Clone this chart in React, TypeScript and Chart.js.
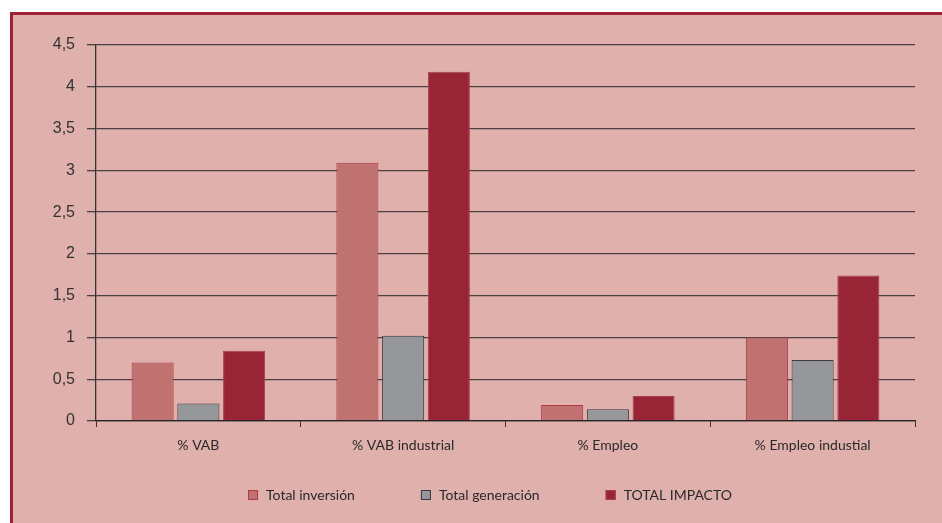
import React, { useEffect, useRef } from "react";
import { Chart, registerables } from "chart.js";

Chart.register(...registerables);

const categories = ["% VAB", "% VAB industrial", "% Empleo", "% Empleo industial"];
const seriesNames = ["Total inversión", "Total generación", "TOTAL IMPACTO"];
const totalInversion = [0.7, 3.09, 0.19, 1.0];
const totalGeneracion = [0.21, 1.02, 0.14, 0.73];
const totalImpacto = [0.84, 4.18, 0.3, 1.74];
const yTicks = [0, 0.5, 1, 1.5, 2, 2.5, 3, 3.5, 4, 4.5];

const FONT_NARROW = 'Lato, "Noto Sans", sans-serif';
const FONT_AXIS = '"Liberation Sans", Arial, sans-serif';

const legendPlugin = {
  id: "customLegend",
  afterDraw(chart: any) {
    const ctx = chart.ctx;
    ctx.save();
    ctx.font = "14px " + FONT_NARROW;
    ctx.textBaseline = "middle";
    ctx.textAlign = "left";
    const box = 10;
    const gapBoxText = 8;
    const gapItems = 66;
    const items = chart.data.datasets.map((ds: any) => ({
      text: ds.label,
      fill: ds.backgroundColor,
      stroke: ds.borderColor,
      w: ctx.measureText(ds.label).width,
    }));
    const total =
      items.reduce((s: number, it: any) => s + box + gapBoxText + it.w, 0) +
      gapItems * (items.length - 1);
    let x = 490 - total / 2;
    const y = 495;
    for (const it of items) {
      ctx.fillStyle = it.fill;
      ctx.fillRect(x, y - box / 2, box, box);
      ctx.strokeStyle = it.stroke;
      ctx.lineWidth = 1;
      ctx.strokeRect(x + 0.5, y - box / 2 + 0.5, box - 1, box - 1);
      ctx.fillStyle = "#2a2a2a";
      ctx.fillText(it.text, x + box + gapBoxText, y);
      x += box + gapBoxText + it.w + gapItems;
    }
    ctx.restore();
  },
};

export default function App() {
  const ref = useRef<HTMLCanvasElement | null>(null);

  useEffect(() => {
    if (!ref.current) return;
    const chart = new Chart(ref.current, {
      type: "bar",
      data: {
        labels: categories,
        datasets: [
          {
            label: seriesNames[0],
            data: totalInversion,
            backgroundColor: "#bf7270",
            borderColor: "#b03848",
            borderWidth: 1,
          },
          {
            label: seriesNames[1],
            data: totalGeneracion,
            backgroundColor: "#96979b",
            borderColor: "#3a3a3a",
            borderWidth: 1,
          },
          {
            label: seriesNames[2],
            data: totalImpacto,
            backgroundColor: "#982536",
            borderColor: "#a8404f",
            borderWidth: 1,
          },
        ],
      },
      options: {
        responsive: false,
        animation: false,
        datasets: {
          bar: { categoryPercentage: 0.67, barPercentage: 0.92 },
        },
        layout: { padding: { left: 0, right: 27, top: 45, bottom: 0 } },
        plugins: {
          legend: { display: false },
          tooltip: { enabled: false },
        },
        scales: {
          x: {
            afterFit: (s: any) => {
              s.height = 102;
            },
            grid: {
              offset: true,
              drawOnChartArea: false,
              color: "#333",
              tickLength: 6,
            },
            border: { color: "#222", width: 1.3 },
            ticks: {
              color: "#2a2a2a",
              font: { family: FONT_NARROW, size: 14 },
              padding: 10,
            },
          },
          y: {
            min: 0,
            max: 4.5,
            afterFit: (s: any) => {
              s.width = 96;
            },
            afterBuildTicks: (s: any) => {
              s.ticks = yTicks.map((v) => ({ value: v }));
            },
            grid: {
              color: "#4a4040",
              lineWidth: 1.3,
              tickLength: 9,
            },
            border: { color: "#333", width: 1.3 },
            ticks: {
              color: "#333",
              font: { family: FONT_AXIS, size: 16 },
              padding: 12,
              callback: (v: any) => String(v).replace(".", ","),
            },
          },
        },
      },
      plugins: [legendPlugin],
    });
    return () => chart.destroy();
  }, []);

  return (
    <div style={{ position: "fixed", left: 0, top: 0, width: 942, height: 523, background: "#fff", overflow: "hidden" }}>
      <div
        style={{
          position: "absolute",
          left: 10,
          top: 12,
          width: 940,
          height: 520,
          background: "#dfb0ac",
          borderTop: "3px solid #9b2335",
          borderLeft: "3px solid #9b2335",
        }}
      />
      <canvas ref={ref} width={942} height={523} style={{ position: "absolute", left: 0, top: 0, width: 942, height: 523 }} />
    </div>
  );
}
